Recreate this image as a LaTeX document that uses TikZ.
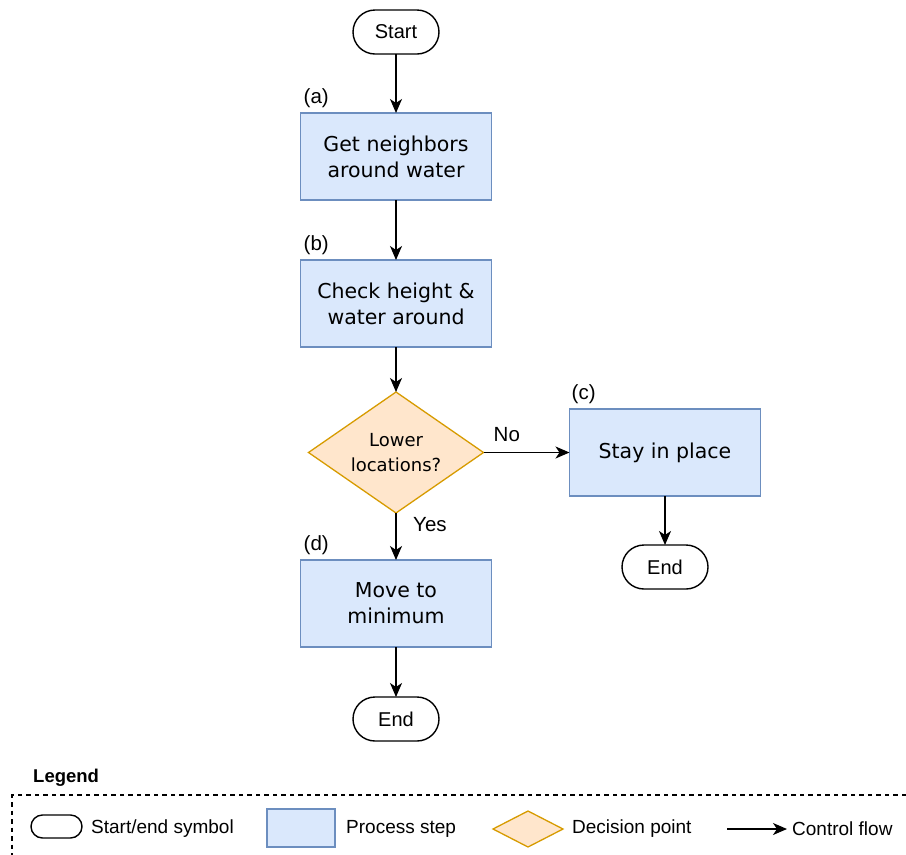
\documentclass[tikz,border=0pt]{standalone}
\usepackage{fontspec}
\setmainfont{DejaVu Sans}
\newfontfamily\arialfont{Liberation Sans}
\definecolor{procfill}{HTML}{DAE8FC}
\definecolor{procdraw}{HTML}{6C8EBF}
\definecolor{decfill}{HTML}{FFE6CC}
\definecolor{decdraw}{HTML}{D79B00}
\usetikzlibrary{shapes.geometric, arrows.meta, positioning}

\begin{document}
\begin{tikzpicture}[
        x=1pt, y=-1pt,
        term/.style={rectangle, rounded corners=22pt, draw=black, fill=white,
                    line width=1.4pt, minimum width=86pt, minimum height=44pt,
                    inner sep=0pt, outer sep=0pt, font=\arialfont\fontsize{20}{24}\selectfont},
        proc/.style={rectangle, draw=procdraw, fill=procfill, line width=1.3pt,
                    minimum width=191pt, minimum height=87pt, inner sep=0pt, outer sep=0pt,
                    align=center, font=\fontsize{20.5}{26}\selectfont},
        decision/.style={diamond, aspect=1.45, draw=decdraw, fill=decfill, line width=1.3pt,
                    minimum width=175pt, minimum height=121pt, inner sep=0pt, outer sep=0pt,
                    align=center, font=\fontsize{18}{25}\selectfont},
        tag/.style={inner sep=0pt, font=\arialfont\fontsize{20.5}{24}\selectfont},
        legtext/.style={inner sep=0pt, anchor=west, font=\arialfont\fontsize{19}{22}\selectfont},
        flow/.style={-{Stealth[length=14pt, width=12pt, inset=4pt]}, line width=1.4pt}
      ]
        \useasboundingbox (0,0) rectangle (906,855);

        \node[term] (start) at (396,32) {Start};
        \node[proc, below=59pt of start] (nbrs) {Get neighbors\\around water};
        \node[proc, below=60pt of nbrs] (check) {Check height \&\\water around};
        \node[decision, below=45pt of check] (lower) {Lower\\locations?};
        \node[proc, below=47pt of lower] (move) {Move to\\minimum};
        \node[term, below=50pt of move] (endA) {End};
        \node[proc, right=86pt of lower] (stay) {Stay in place};
        \node[term, below=49pt of stay] (endB) {End};

        \node[tag, anchor=base west] (tagA) at ([xshift=3pt, yshift=10pt]nbrs.north west) {(a)};
        \node[tag, anchor=base west] (tagB) at ([xshift=3pt, yshift=10pt]check.north west) {(b)};
        \node[tag, anchor=base west] (tagC) at ([xshift=2pt, yshift=10pt]stay.north west) {(c)};
        \node[tag, anchor=base west] (tagD) at ([xshift=3pt, yshift=10pt]move.north west) {(d)};
        \node[tag, anchor=base west] (lblNo) at ([xshift=10pt, yshift=11pt]lower.east) {No};
        \node[tag, anchor=base west] (lblYes) at ([xshift=17pt, yshift=-18pt]lower.south) {Yes};

        \draw[flow] (start) -- (nbrs);
        \draw[flow] (nbrs) -- (check);
        \draw[flow] (check) -- (lower);
        \draw[flow] (lower) -- (move);
        \draw[flow] (move) -- (endA);
        \draw[flow] (lower) -- (stay);
        \draw[flow] (stay) -- (endB);

        \node[inner sep=0pt, anchor=base west, font=\arialfont\bfseries\fontsize{18.5}{22}\selectfont] (legTitle) at (33,782) {Legend};
        \draw[line width=1.2pt, dash pattern=on 4.5pt off 4pt] (906,795) -- (12,795) -- (12,855);

        \node[term, minimum width=51pt, minimum height=23pt, rounded corners=11.5pt] (legTerm) at (56.5,826.5) {};
        \node[legtext] (legTermTxt) at (91,829) {Start/end symbol};
        \node[proc, minimum width=68pt, minimum height=38pt] (legProc) at (301,828) {};
        \node[legtext] (legProcTxt) at (346,829) {Process step};
        \node[decision, aspect=1.9, minimum width=70pt, minimum height=36pt] (legDec) at (528,829) {};
        \node[legtext] (legDecTxt) at (572,829) {Decision point};
        \coordinate (legFlowA) at (727,829);
        \coordinate (legFlowB) at (787,829);
        \draw[flow, line width=1.2pt] (legFlowA) -- (legFlowB);
        \node[legtext] (legFlowTxt) at (792,829) {Control flow};
      \end{tikzpicture}
\end{document}
